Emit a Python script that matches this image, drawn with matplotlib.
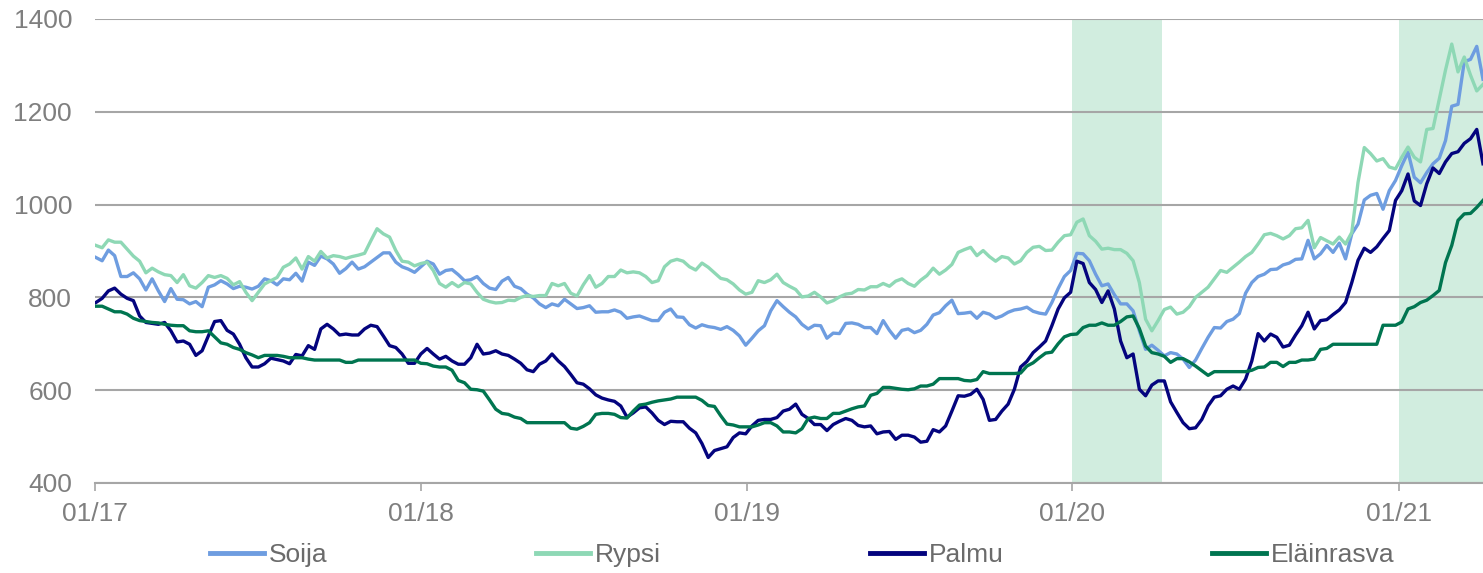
import matplotlib
matplotlib.use("Agg")
import matplotlib.pyplot as plt
import pandas as pd

plt.rcParams['font.family'] = ['Liberation Sans', 'DejaVu Sans']

# weekly observations from early January 2017
dates = pd.date_range('2017-01-02', periods=223, freq='7D')

soija = [
    886, 879, 902, 890, 845, 845, 853, 840, 816, 840, 814, 791, 819, 796, 795, 786, 791, 780, 822, 827,
    836, 829, 819, 824, 822, 818, 824, 840, 836, 827, 840, 838, 852, 835, 876, 869, 889,
    883, 872, 852, 862, 876, 861, 866, 876, 886, 896, 896, 876, 866, 861, 854, 866, 878, 872, 850,
    858, 860, 849, 836, 838, 845, 830, 820, 817, 835, 843, 824, 819, 807, 799, 786, 778, 786,
    782, 796, 786, 776, 778, 782, 768, 769, 769, 773, 768, 755, 758, 760, 755, 750, 750, 768, 775,
    758, 757, 741, 734, 741, 737, 735, 731, 737, 729, 717, 697, 712, 728, 739, 771, 793, 780,
    768, 758, 742, 732, 740, 739, 712, 723, 722, 744, 745, 742, 735, 735, 722, 750, 729, 712, 729,
    732, 724, 729, 742, 762, 767, 782, 794, 765, 766, 768, 755, 768, 764, 755, 760, 768, 773,
    775, 779, 770, 766, 764, 789, 819, 845, 858, 895, 894, 879, 850, 825, 829, 806, 786, 786,
    771, 728, 688, 697, 686, 674, 681, 678, 667, 649, 665, 690, 714, 735, 734, 748, 753, 765, 809,
    832, 845, 850, 860, 861, 870, 874, 882, 883, 923, 883, 894, 912, 897, 917, 883, 937, 958, 1010,
    1020, 1024, 990, 1030, 1052, 1084, 1113, 1059, 1047, 1069, 1088, 1100, 1138, 1212, 1216, 1308,
    1313, 1341, 1270,
]

rypsi = [
    912, 907, 924, 919, 919, 904, 889, 878, 853, 863, 855, 849, 847, 832, 849, 825, 820, 832, 847, 843,
    847, 841, 827, 834, 811, 793, 811, 829, 836, 843, 865, 872, 885, 861, 888, 878, 899,
    885, 890, 888, 884, 888, 891, 895, 922, 948, 937, 930, 901, 878, 876, 868, 873, 876, 858, 830,
    822, 832, 823, 832, 829, 811, 796, 791, 788, 789, 794, 793, 800, 804, 802, 804, 804, 830,
    825, 830, 809, 803, 827, 847, 822, 830, 845, 845, 859, 853, 855, 853, 845, 832, 836, 866, 878,
    882, 878, 866, 859, 874, 865, 853, 841, 838, 829, 816, 807, 811, 836, 832, 838, 850, 832,
    824, 817, 801, 803, 811, 801, 788, 793, 801, 807, 809, 817, 816, 823, 823, 830, 824, 835, 840,
    830, 824, 837, 847, 863, 850, 859, 871, 897, 903, 908, 890, 901, 888, 878, 888, 885, 872,
    879, 897, 908, 910, 901, 902, 919, 933, 935, 962, 969, 933, 921, 904, 906, 903, 903, 895,
    879, 832, 753, 728, 750, 774, 779, 764, 768, 780, 800, 811, 822, 840, 858, 854, 865, 876, 888,
    897, 915, 935, 938, 933, 926, 933, 948, 950, 966, 907, 929, 922, 915, 930, 915, 940, 1048, 1123,
    1110, 1094, 1099, 1081, 1077, 1102, 1124, 1102, 1092, 1162, 1164, 1227, 1290, 1346, 1286, 1318,
    1279, 1245, 1259,
]

palmu = [
    789, 798, 814, 820, 807, 798, 793, 760, 746, 744, 742, 746, 728, 704, 706, 699, 675, 685, 717, 748,
    750, 729, 721, 699, 670, 650, 650, 657, 669, 666, 663, 657, 677, 674, 696, 688, 732,
    742, 732, 719, 721, 719, 719, 732, 740, 737, 717, 696, 692, 678, 658, 658, 678, 690, 678, 667,
    673, 663, 656, 656, 670, 699, 678, 680, 685, 678, 675, 667, 658, 644, 640, 656, 663, 678,
    663, 651, 634, 616, 613, 603, 590, 583, 579, 576, 566, 542, 551, 562, 564, 551, 535, 526, 533,
    532, 532, 518, 508, 485, 455, 470, 474, 478, 498, 508, 506, 523, 535, 537, 537, 541, 555,
    559, 570, 548, 539, 526, 526, 513, 526, 533, 539, 535, 524, 521, 523, 506, 510, 511, 494, 503,
    503, 499, 488, 490, 515, 510, 523, 555, 588, 587, 591, 602, 580, 535, 537, 555, 570, 602,
    650, 662, 681, 693, 706, 739, 775, 799, 811, 878, 873, 832, 817, 789, 814, 775, 706, 670, 678,
    602, 588, 611, 620, 620, 575, 552, 530, 517, 519, 537, 566, 585, 588, 602, 609, 602, 624,
    663, 722, 706, 721, 714, 693, 697, 719, 739, 768, 732, 750, 752, 763, 773, 789, 832, 880, 906,
    897, 909, 927, 944, 1009, 1030, 1066, 1008, 998, 1045, 1079, 1067, 1092, 1110, 1114, 1132,
    1142, 1162, 1088,
]

elainrasva = [
    781, 781, 775, 769, 769, 764, 755, 750, 748, 746, 745, 742, 740, 739, 739, 728, 726, 726, 728, 715,
    702, 699, 692, 688, 681, 676, 670, 675, 675, 675, 673, 670, 670, 670, 667, 665, 665,
    665, 665, 665, 660, 660, 665, 665, 665, 665, 665, 665, 665, 665, 665, 665, 658, 657, 652, 650,
    650, 643, 621, 616, 602, 601, 598, 579, 559, 550, 548, 542, 539, 530, 530, 530, 530, 530,
    530, 530, 518, 516, 522, 530, 548, 550, 550, 548, 541, 540, 555, 568, 570, 574, 577, 579, 581,
    585, 585, 585, 585, 578, 567, 565, 545, 527, 525, 521, 521, 521, 525, 530, 530, 523, 510,
    510, 508, 517, 539, 542, 539, 539, 550, 550, 555, 560, 564, 566, 589, 593, 606, 606, 604, 602,
    601, 603, 609, 609, 613, 625, 625, 625, 625, 621, 620, 623, 640, 636, 636, 636, 636, 636,
    637, 652, 659, 670, 680, 682, 700, 715, 720, 721, 735, 740, 740, 745, 740, 740, 748, 758,
    760, 733, 695, 681, 678, 673, 660, 668, 668, 661, 652, 642, 632, 640, 640, 640, 640, 640, 640,
    643, 649, 650, 660, 660, 651, 660, 660, 665, 665, 667, 688, 690, 699, 699, 699, 699, 699, 699,
    699, 699, 740, 740, 740, 747, 775, 780, 789, 794, 804, 815, 875, 912, 966, 980,
    981, 994, 1009,
]

series_names = ['Soija', 'Rypsi', 'Palmu', 'Eläinrasva']
series_values = [soija, rypsi, palmu, elainrasva]
colors = ['#6E9DE0', '#8ED8B5', '#04047E', '#007550']

shade_periods = [('2020-01-01', '2020-04-10'), ('2021-01-01', '2021-04-30')]
year_ticks = pd.to_datetime(['2017-01-01', '2018-01-01', '2019-01-01', '2020-01-01', '2021-01-01'])
tick_labels = ['01/17', '01/18', '01/19', '01/20', '01/21']
y_ticks = [400, 600, 800, 1000, 1200, 1400]

fig = plt.figure(figsize=(14.83, 5.73), dpi=100)
ax = fig.add_axes([95 / 1483, 1 - 483 / 573, 1 - 95 / 1483, (483 - 19) / 573])

for (s, e) in shade_periods:
    ax.axvspan(pd.Timestamp(s), pd.Timestamp(e), color='#D1EDDF', lw=0, zorder=0)

for name, vals, c in zip(series_names, series_values, colors):
    ax.plot(dates, vals, color=c, lw=2.4, label=name, zorder=3, solid_joinstyle='round')

ax.set_ylim(400, 1400)
ax.set_xlim(pd.Timestamp('2017-01-01'), dates[-1])
ax.set_yticks(y_ticks)
ax.set_yticklabels([str(v) for v in y_ticks])
ax.set_xticks(year_ticks)
ax.set_xticklabels(tick_labels)
ax.yaxis.grid(True, color='#A6A6A6', lw=1.5, zorder=1)
ax.set_axisbelow(True)
for sp in ['top', 'right', 'left']:
    ax.spines[sp].set_visible(False)
ax.spines['bottom'].set_color('#A6A6A6')
ax.spines['bottom'].set_linewidth(1.5)
ax.tick_params(axis='y', length=0, pad=16.5, labelsize=19, labelcolor='#7F7F7F')
ax.tick_params(axis='x', length=6, width=1.2, color='#A6A6A6', pad=8, labelsize=19,
               labelcolor='#7F7F7F', direction='out')

leg = fig.legend(loc='center', bbox_to_anchor=(802.5 / 1483, 1 - 555 / 573), ncol=4,
                 frameon=False, fontsize=19, handlelength=2.05, handletextpad=0.19,
                 columnspacing=7.9, labelcolor='#6B6B6B')
for h in leg.legend_handles:
    h.set_linewidth(3.5)

fig.savefig('out.png', dpi=100)
